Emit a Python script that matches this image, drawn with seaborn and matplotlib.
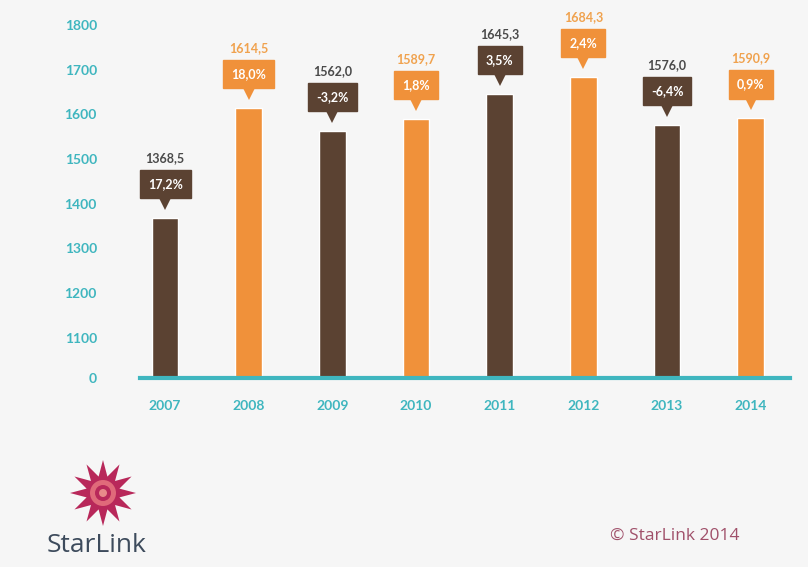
import matplotlib
matplotlib.use("Agg")
import matplotlib.pyplot as plt
from matplotlib.patches import Polygon, Ellipse
from matplotlib.transforms import ScaledTranslation
import numpy as np
import pandas as pd
import seaborn as sns

years = ["2007", "2008", "2009", "2010", "2011", "2012", "2013", "2014"]
values = [1368.5, 1614.5, 1562.0, 1589.7, 1645.3, 1684.3, 1576.0, 1590.9]
changes = ["17,2%", "18,0%", "-3,2%", "1,8%", "3,5%", "2,4%", "-6,4%", "0,9%"]
ytick_values = [1010, 1100, 1200, 1300, 1400, 1500, 1600, 1700, 1800]
ytick_labels = ["0", "1100", "1200", "1300", "1400", "1500", "1600", "1700", "1800"]

BROWN = "#5b4232"
ORANGE = "#f0913a"
TEAL = "#3fb6bf"
BG = "#f6f6f6"

bar_colors = [BROWN if i % 2 == 0 else ORANGE for i in range(len(years))]
label_colors = ["#4a4a4a" if i % 2 == 0 else "#f0a24e" for i in range(len(years))]

sns.set_theme(style="white")
plt.rcParams["font.family"] = ["Lato", "DejaVu Sans"]

df = pd.DataFrame({"year": years, "value": values})

fig = plt.figure(figsize=(8.08, 5.67), dpi=100, facecolor=BG)
ax = fig.add_axes([140 / 808, 1 - 378 / 567, 650 / 808, (378 - 25) / 567])
ax.set_facecolor(BG)

sns.barplot(data=df, x="year", y="value", hue="year", palette=bar_colors,
            width=0.32, legend=False, ax=ax, saturation=1)

# broken value axis: the baseline is labelled 0, the scale resumes at 1100
ax.set_ylim(1010, 1800)
ax.set_xlim(-0.3, 7.47)
ax.set_yticks(ytick_values)
ax.set_yticklabels(ytick_labels)
ax.set_xlabel("")
ax.set_ylabel("")
for s in ["top", "right", "left"]:
    ax.spines[s].set_visible(False)
ax.spines["bottom"].set_color(TEAL)
ax.spines["bottom"].set_linewidth(3)
ax.tick_params(axis="y", length=0, pad=31, labelsize=10, labelcolor=TEAL)
ax.tick_params(axis="x", length=0, pad=16, labelsize=10, labelcolor=TEAL)
for t in ax.get_xticklabels() + ax.get_yticklabels():
    t.set_fontweight("bold")

PX = 0.72  # points per pixel at 100 dpi
tri_shift = ax.transData + ScaledTranslation(0, 17 / 100, fig.dpi_scale_trans)
for i, (v, ch) in enumerate(zip(values, changes)):
    c = bar_colors[i]
    # pointer triangle under the callout
    ax.plot([i], [v], marker="v", markersize=13, color=c, markeredgewidth=0,
            transform=tri_shift, clip_on=False)
    # year-on-year change box
    ax.annotate(ch, xy=(i, v), xytext=(0, 34 * PX), textcoords="offset points",
                ha="center", va="center", color="white", fontsize=9, fontweight="bold",
                bbox=dict(boxstyle="square,pad=0.65", fc=c, ec=c),
                annotation_clip=False)
    # value label
    ax.annotate(f"{v:.1f}".replace(".", ","), xy=(i, v), xytext=(0, 60 * PX),
                textcoords="offset points", ha="center", va="center",
                color=label_colors[i], fontsize=9, fontweight="bold",
                annotation_clip=False)

# logo star
cx, cy = 103 / 808, 1 - 493 / 567
n = 12
pts = []
for k in range(2 * n):
    ang = np.pi / 2 + k * np.pi / n
    r = 33 if k % 2 == 0 else 17
    pts.append((cx + r * np.cos(ang) / 808, cy + r * np.sin(ang) / 567))
fig.patches.append(Polygon(pts, closed=True, transform=fig.transFigure,
                           fc="#b8285a", ec="none"))
for r, col in [(13, "#e06a7a"), (8, "#b8285a"), (4, "#e88a8a")]:
    fig.patches.append(Ellipse((cx, cy), 2 * r / 808, 2 * r / 567,
                               transform=fig.transFigure, fc=col, ec="none"))
fig.text(47 / 808, 1 - 545 / 567, "StarLink", fontsize=19, color="#3d4b5c",
         ha="left", va="center", family=["Open Sans", "DejaVu Sans"])
fig.text(610 / 808, 1 - 536 / 567, "© StarLink 2014", fontsize=12.5,
         color="#a0506a", ha="left", va="center", family=["Open Sans", "DejaVu Sans"])

fig.savefig("out.png", dpi=100, facecolor=BG)
